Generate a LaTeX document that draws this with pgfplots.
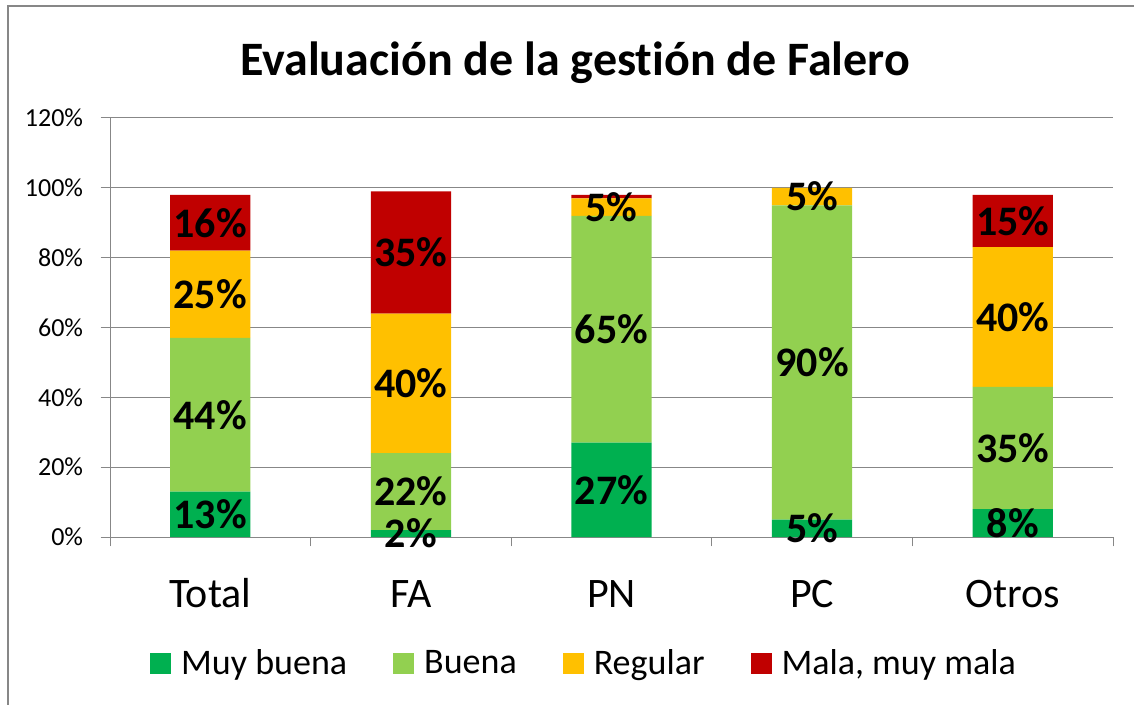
\documentclass[border=0pt]{standalone}
\usepackage{pgfplots}
\pgfplotsset{compat=1.18}
\usepackage{fontspec}
\setmainfont[Ligatures=NoCommon]{Carlito}
\definecolor{cMB}{HTML}{00B050}
\definecolor{cB}{HTML}{92D050}
\definecolor{cR}{HTML}{FFC000}
\definecolor{cM}{HTML}{C00000}
\definecolor{gridc}{HTML}{878787}
\pgfplotsset{
  sq/.style={legend image code/.code={\fill[##1] (0pt,-7.875pt) rectangle (15.75pt,7.875pt);}},
}
\begin{document}
\begin{tikzpicture}
\useasboundingbox (0,0) rectangle (850.5pt,528pt);
\draw[gridc, line width=0.9pt] (6pt,-5pt) -- (6pt,523.5pt) -- (860pt,523.5pt);
\node[anchor=base, font=\bfseries\fontsize{36}{40}\selectfont] at (431.25pt,471pt) {Evaluación de la gestión de Falero};
\begin{axis}[
  at={(82.5pt,125.25pt)}, anchor=south west,
  scale only axis, width=752.25pt, height=314.25pt,
  ybar stacked, bar width=0.4,
  xmin=-0.5, xmax=4.5, ymin=0, ymax=120,
  xtick={0,1,2,3,4}, xticklabels={Total,FA,PN,PC,Otros},
  minor xtick={-0.5,0.5,1.5,2.5,3.5,4.5},
  ytick={0,20,40,60,80,100,120}, yticklabels={0\%,20\%,40\%,60\%,80\%,100\%,120\%},
  minor ytick={0,20,40,60,80,100,120},
  axis x line*=bottom, axis y line*=left,
  axis line style={gridc, line width=0.75pt},
  ymajorgrids, major grid style={gridc, line width=0.75pt},
  tick align=outside,
  minor tick length=7pt, major tick length=0pt,
  tick style={gridc, line width=0.75pt},
  xticklabel style={font=\fontsize{31.5}{36}\selectfont, anchor=base, inner sep=0pt, yshift=-52.5pt},
  yticklabel style={font=\fontsize{19.5}{22}\selectfont, anchor=east, inner sep=0pt, xshift=-20pt},
  legend columns=4,
  legend style={draw=none, at={(0.4716,-0.3007)}, anchor=center,
    font=\fontsize{27}{30}\selectfont, column sep=0pt,
    /tikz/every odd column/.append style={column sep=7.5pt},
    /tikz/every even column/.append style={column sep=34.5pt},
    nodes={inner sep=0pt}},
]
\addplot[fill=cMB, draw=none, sq] coordinates {(0,13) (1,2) (2,27) (3,5) (4,8)};
\addlegendentry{Muy buena}
\addplot[fill=cB, draw=none, sq] coordinates {(0,44) (1,22) (2,65) (3,90) (4,35)};
\addlegendentry{Buena}
\addplot[fill=cR, draw=none, sq] coordinates {(0,25) (1,40) (2,5) (3,5) (4,40)};
\addlegendentry{Regular}
\addplot[fill=cM, draw=none, sq] coordinates {(0,16) (1,35) (2,1) (3,0) (4,15)};
\addlegendentry{Mala, muy mala}
\end{axis}
\begin{axis}[
  at={(82.5pt,125.25pt)}, anchor=south west,
  scale only axis, width=752.25pt, height=314.25pt,
  xmin=-0.5, xmax=4.5, ymin=0, ymax=120,
  hide axis, clip=false,
]
\addplot[only marks, mark=none, point meta=explicit symbolic,
  nodes near coords={\pgfplotspointmeta\%},
  nodes near coords align=center,
  every node near coord/.append style={anchor=center, font=\bfseries\fontsize{31.5}{36}\selectfont, inner sep=0pt, text=black}]
  table[meta=l] {
x y l
0 6.5 13
0 35 44
0 69.5 25
0 90 16
1 1 2
1 13 22
1 44 40
1 81.5 35
2 13.5 27
2 59.5 65
2 94.5 5
3 2.5 5
3 50 90
3 97.5 5
4 4 8
4 25.5 35
4 63 40
4 90.5 15
};
\end{axis}
\end{tikzpicture}
\end{document}
